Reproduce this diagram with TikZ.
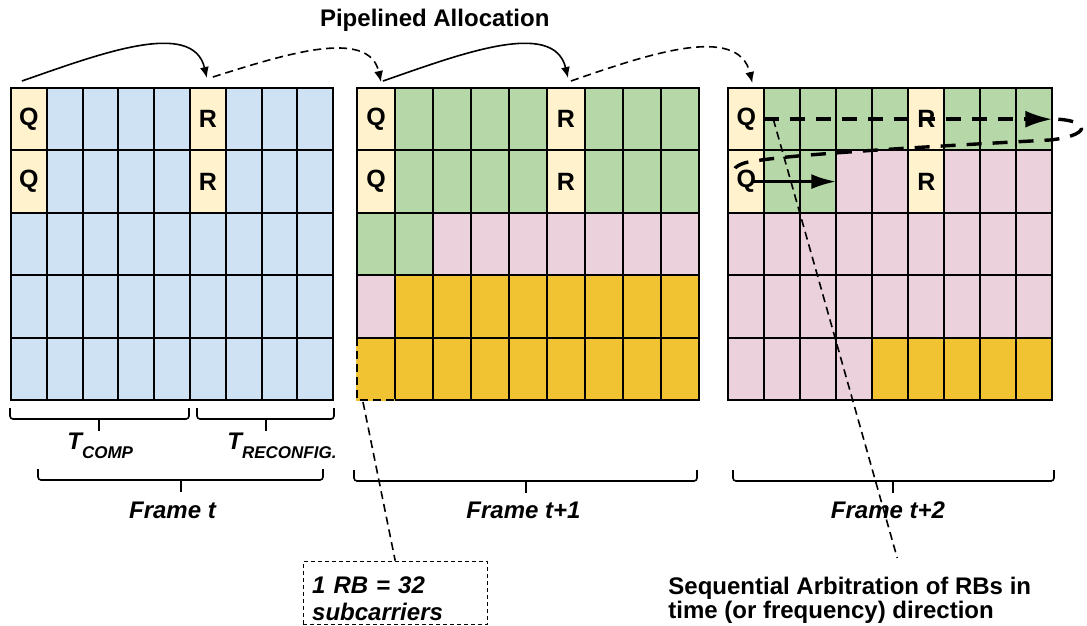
\documentclass[tikz,border=0pt]{standalone}
\usepackage{fontspec}
\setmainfont{Liberation Sans}
\usetikzlibrary{arrows.meta,positioning,calc}

\definecolor{qr}{HTML}{FFF2CC}
\definecolor{bl}{HTML}{CFE2F3}
\definecolor{gn}{HTML}{B6D7A8}
\definecolor{pk}{HTML}{EAD1DC}
\definecolor{yl}{HTML}{F1C232}

\begin{document}
\begin{tikzpicture}[
    x=0.5pt, y=-0.5pt,
    font=\fontsize{12}{14}\selectfont\bfseries,
    cell/.style={draw, line width=1pt, inner sep=0pt, outer sep=0pt, minimum height=31.2pt},
    rb/.style={font=\fontsize{12.5}{14}\selectfont\bfseries},
    lbl/.style={font=\fontsize{12}{14}\selectfont\bfseries\itshape},
    brk/.style={line width=0.8pt, rounded corners=1.5pt},
    pipe/.style={-{Latex[length=5.5pt,width=4.5pt]}, line width=0.8pt},
    pipe-dash/.style={pipe, dash pattern=on 4pt off 2.5pt},
    seq/.style={line width=1.7pt, dash pattern=on 7.5pt off 5.5pt},
    seq-arr/.style={-{Latex[length=12.5pt,width=7.5pt]}, line width=1.6pt},
    note/.style={dash pattern=on 4pt off 2.5pt, line width=0.8pt},
]
\useasboundingbox (0,0) rectangle (1087,626);

% --- Frame t ---
\foreach \cols [count=\r] in {{qr,bl,bl,bl,bl,qr,bl,bl,bl},{qr,bl,bl,bl,bl,qr,bl,bl,bl},
    {bl,bl,bl,bl,bl,bl,bl,bl,bl},{bl,bl,bl,bl,bl,bl,bl,bl,bl},{bl,bl,bl,bl,bl,bl,bl,bl,bl}}
  \foreach \c [count=\k] in \cols
    \node[cell, fill=\c, minimum width=17.9pt] (a-\r-\k) at ({11+(\k-0.5)*35.8},{88+(\r-0.5)*62.4}) {};

% --- Frame t+1 ---
\foreach \cols [count=\r] in {{qr,gn,gn,gn,gn,qr,gn,gn,gn},{qr,gn,gn,gn,gn,qr,gn,gn,gn},
    {gn,gn,pk,pk,pk,pk,pk,pk,pk},{pk,yl,yl,yl,yl,yl,yl,yl,yl},{yl,yl,yl,yl,yl,yl,yl,yl,yl}}
  \foreach \c [count=\k] in \cols
    \node[cell, fill=\c, minimum width=19pt] (b-\r-\k) at ({357+(\k-0.5)*38},{88+(\r-0.5)*62.4}) {};

% --- Frame t+2 ---
\foreach \cols [count=\r] in {{qr,gn,gn,gn,gn,qr,gn,gn,gn},{qr,gn,gn,pk,pk,qr,pk,pk,pk},
    {pk,pk,pk,pk,pk,pk,pk,pk,pk},{pk,pk,pk,pk,pk,pk,pk,pk,pk},{pk,pk,pk,pk,yl,yl,yl,yl,yl}}
  \foreach \c [count=\k] in \cols
    \node[cell, fill=\c, minimum width=18pt] (c-\r-\k) at ({728.3+(\k-0.5)*36},{88+(\r-0.5)*62.4}) {};

% --- Q / R slots ---
\foreach \f in {a,b,c}
  \foreach \r in {1,2} {
    \node[rb] (\f-q\r) at (\f-\r-1) {Q};
    \node[rb] (\f-r\r) at (\f-\r-6) {R};
  }

% --- one RB, dashed ---
\draw[yl, line width=1pt] (b-5-1.north west) -- (b-5-1.south west) -- (b-5-1.south east);
\draw[line width=1pt, dash pattern=on 4pt off 2.5pt] (b-5-1.north west) -- (b-5-1.south west) -- (b-5-1.south east);

% --- Pipelined allocation arrows ---
\node[anchor=base west] (title) at (313,26.7) {Pipelined Allocation};
\draw[pipe] ($(a-1-1.north)+(-7,-7)$) .. controls +(75,-26) and +(-14,-60) .. ($(a-1-6.north)+(-1,-10)$);
\draw[pipe-dash] ($(a-1-6.north)+(5,-11)$) .. controls +(70,-22) and +(-12,-55) .. ($(b-1-1.north)+(5,-6)$);
\draw[pipe] ($(b-1-1.north)+(7,-7)$) .. controls +(75,-26) and +(-14,-60) .. ($(b-1-6.north)+(2,-10)$);
\draw[pipe-dash] ($(b-1-6.north)+(5,-7)$) .. controls +(75,-26) and +(-14,-60) .. ($(c-1-1.north)+(6,-5)$);

% --- Sequential arbitration in frame t+2 ---
\coordinate (turn) at (1050,140);
\coordinate (hook) at (755,161);
\draw[seq, -{Latex[length=13.5pt,width=8.5pt]}] (c-1-1.east) -- (c-1-9.east);
\draw[seq] ($(c-1-9.east)+(6,0)$) .. controls (1093,122) and (1088,136) .. (turn)
    .. controls (900,148) and (790,155) .. (hook) .. controls (735,163) and (728,172) .. (739,176);
\draw[seq-arr] ($(c-2-1.center)+(6,0)$) -- (c-2-3.east);

% --- Braces ---
\foreach \xa/\xm/\xb/\ya in {10/99/189/408, 197/266/334/408, 38/181/323/469, 354/526/697/470, 733/893/1054/470} {
  \draw[brk] (\xa,\ya) -- ({\xa},{\ya+11}) -- ({\xb},{\ya+11}) -- (\xb,\ya);
  \draw[brk] ({\xm},{\ya+11}) -- ({\xm},{\ya+23});
}

\node[lbl, anchor=base west, inner sep=0pt] (tcomp) at (67,449) {T\raisebox{-4.5pt}{\fontsize{8.5}{9}\selectfont COMP}};
\node[lbl, anchor=base west, inner sep=0pt] (treconf) at (227,449) {T\raisebox{-4.5pt}{\fontsize{8.5}{9}\selectfont RECONFIG.}};

\node[lbl, anchor=base] (ft0) at (172.5,518) {Frame t};
\node[lbl, anchor=base] (ft1) at (523.5,518) {Frame t+1};
\node[lbl, anchor=base] (ft2) at (888,518) {Frame t+2};

% --- Notes ---
\node[draw, dash pattern=on 2pt off 1.5pt, line width=0.5pt, anchor=north west, inner xsep=4.5pt, inner ysep=0pt,
      text width=83pt, align=left, font=\fontsize{12}{13.7}\selectfont\bfseries\itshape]
      (rbnote) at (302.7,560.7) {\rule{0pt}{16pt}1 RB = 32\\subcarriers\rule[-2pt]{0pt}{2pt}};
\node[anchor=north west, inner sep=0pt, align=left, font=\fontsize{12}{12}\selectfont\bfseries]
      (arb) at (668,577) {Sequential Arbitration of RBs in\\time (or frequency) direction};

\draw[note] ($(b-5-1.south west)+(6,2)$) -- (rbnote.north);
\draw[note] ($(c-1-1.east)+(9,0)$) -- ($(arb.north)+(47.5,-19)$);

\end{tikzpicture}
\end{document}
